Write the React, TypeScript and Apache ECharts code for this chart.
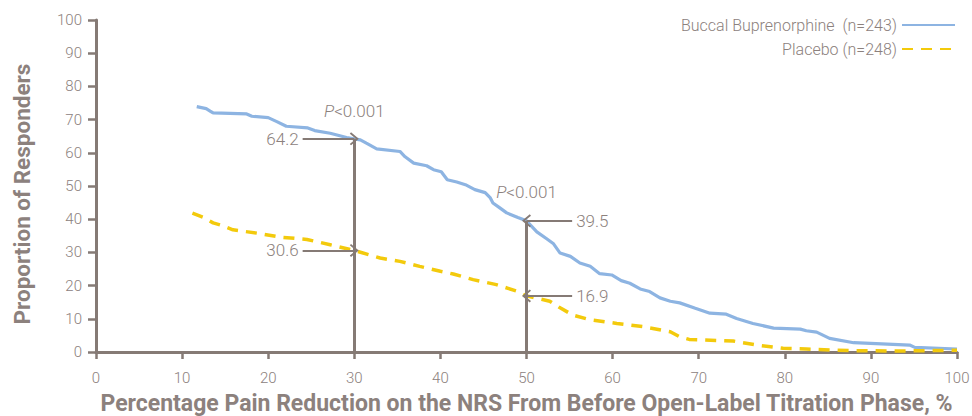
import React, { useEffect, useRef } from "react";
import * as echarts from "echarts";

const xTicks = [0, 10, 20, 30, 40, 50, 60, 70, 80, 90, 100];
const yTicks = [0, 10, 20, 30, 40, 50, 60, 70, 80, 90, 100];

const buprenorphine: [number, number][] = [
  [11.7, 73.9], [12.8, 73.3], [13.3, 72.5], [13.6, 72.0], [17.5, 71.7], [18.1, 71.0],
  [20.0, 70.6], [21.0, 69.4], [22.1, 68.0], [24.6, 67.5], [25.4, 66.7], [27.2, 65.9],
  [29.1, 64.6], [30.0, 64.2], [30.7, 63.9], [31.4, 62.9], [32.6, 61.2], [35.3, 60.4],
  [35.9, 58.8], [36.9, 56.9], [38.4, 56.1], [39.2, 54.9], [40.1, 54.3], [40.8, 51.9],
  [41.9, 51.2], [42.9, 50.4], [44.0, 48.9], [45.2, 48.0], [45.8, 46.4], [46.1, 44.9],
  [46.9, 43.4], [47.7, 41.9], [49.0, 40.5], [50.0, 39.5], [51.2, 36.2], [52.3, 34.2],
  [53.1, 32.7], [53.9, 29.8], [55.1, 28.8], [56.2, 26.8], [57.4, 25.8], [58.5, 23.6],
  [59.9, 23.2], [61.0, 21.5], [62.0, 20.7], [63.2, 19.0], [64.3, 18.2], [65.5, 16.3],
  [66.7, 15.3], [67.8, 14.8], [69.6, 13.2], [71.3, 11.7], [73.2, 11.4], [74.4, 10.1],
  [76.3, 8.6], [78.7, 7.2], [81.8, 6.9], [82.5, 6.4], [83.7, 6.0], [85.2, 4.1],
  [88.0, 2.8], [94.5, 2.1], [95.1, 1.4], [100, 0.9],
];

const placebo: [number, number][] = [
  [11.2, 41.8], [12.5, 40.5], [13.6, 38.9], [14.4, 38.3], [15.9, 36.8], [18.7, 35.8],
  [21.4, 34.6], [24.5, 33.9], [27.2, 32.3], [30.0, 30.6], [33.0, 28.3], [35.3, 27.3],
  [37.6, 25.8], [40.0, 24.3], [41.5, 23.5], [43.8, 21.8], [46.5, 20.3], [48.9, 18.3],
  [50.0, 16.9], [52.7, 15.3], [53.9, 13.3], [55.4, 11.1], [57.4, 9.7], [60.5, 8.6],
  [63.6, 7.6], [66.7, 6.1], [67.8, 4.6], [68.9, 3.8], [74.0, 3.3], [76.7, 2.1],
  [79.8, 1.1], [82.5, 0.9], [87.6, 0.4], [93.4, 0.3], [98.8, 0.5], [100, 0.5],
];

// annotation cut-offs
const cutoffs = [30, 50];
const bupAtCut = [64.2, 39.5];
const plaAtCut = [30.6, 16.9];
const arrowFrom = [24.0, 55.3];
const pLabelY = [72.6, 48.2];
const pLabelText = "<0.001";

const seriesNames = ["Buccal Buprenorphine  (n=243)", "Placebo (n=248)"];

const AXIS = "#857a75";
const TEXT = "#8c817d";
const BLUE = "#8db4e2";
const GOLD = "#f3ca0c";
const LIGHT = "Roboto, 'Open Sans', sans-serif";
const BOLD = "Roboto, 'Open Sans', sans-serif";

const CHEVRON = "path://M6.5,0 L13,7.6 L11.6,8.8 L6.5,2.8 L1.4,8.8 L0,7.6 Z";

export default function App() {
  const ref = useRef<HTMLDivElement>(null);
  useEffect(() => {
    if (!ref.current) return;
    const chart = echarts.init(ref.current, undefined, { renderer: "svg" });

    const verticals = cutoffs.map((c, i) => [
      { coord: [c, 0], symbol: "none" },
      { coord: [c, bupAtCut[i]], symbol: "none" },
    ]);
    const arrows: any[] = [];
    cutoffs.forEach((c, i) => {
      [bupAtCut[i], plaAtCut[i]].forEach((v) => {
        arrows.push([
          {
            coord: [arrowFrom[i], v],
            label: { show: true, position: "start", formatter: v.toFixed(1), distance: 4 },
          },
          { coord: [c, v] },
        ]);
      });
    });

    const option: any = {
      animation: false,
      grid: { left: 96, right: 15, top: 20, bottom: 64, outerBoundsMode: "none", containLabel: false },
      legend: {
        orient: "vertical",
        right: 11,
        top: 12,
        align: "right",
        itemWidth: 53,
        itemHeight: 10,
        itemGap: 8,
        itemStyle: { opacity: 0 },
        textStyle: { fontFamily: LIGHT, fontWeight: 300, fontSize: 16, color: TEXT },
        data: seriesNames,
      },
      xAxis: {
        type: "value",
        min: 0,
        max: 100,
        interval: 10,
        name: "Percentage Pain Reduction on the NRS From Before Open-Label Titration Phase, %",
        nameLocation: "middle",
        nameGap: 40,
        nameTextStyle: { fontFamily: BOLD, fontWeight: "bold", fontSize: 23, color: TEXT },
        axisLine: { lineStyle: { color: AXIS, width: 3 } },
        axisTick: { length: 7, lineStyle: { color: AXIS, width: 2.5 } },
        axisLabel: {
          fontFamily: LIGHT, fontWeight: 300, fontSize: 15, color: TEXT, margin: 18,
          formatter: (v: number) => (xTicks.includes(v) ? String(v) : ""),
        },
        splitLine: { show: false },
      },
      yAxis: {
        type: "value",
        min: 0,
        max: 100,
        interval: 10,
        name: "Proportion of Responders",
        nameLocation: "middle",
        nameGap: 63,
        nameTextStyle: {
          fontFamily: BOLD, fontWeight: "bold", fontSize: 22.5, color: TEXT,
          padding: [0, 16, 0, 0],
        },
        axisLine: { show: true, lineStyle: { color: AXIS, width: 3 } },
        axisTick: { show: true, length: 8, lineStyle: { color: AXIS, width: 2.5 } },
        axisLabel: {
          fontFamily: LIGHT, fontWeight: 300, fontSize: 15, color: TEXT, margin: 14,
          formatter: (v: number) => (yTicks.includes(v) ? String(v) : ""),
        },
        splitLine: { show: false },
      },
      series: [
        {
          name: seriesNames[0],
          type: "line",
          data: buprenorphine,
          symbol: "none",
          lineStyle: { color: BLUE, width: 3.2 },
          itemStyle: { color: BLUE },
          z: 3,
        },
        {
          name: seriesNames[1],
          type: "line",
          data: placebo,
          symbol: "none",
          lineStyle: { color: GOLD, width: 3.5, type: [11, 8] },
          itemStyle: { color: GOLD },
          z: 3,
        },
        {
          name: "annotations",
          type: "line",
          data: [],
          silent: true,
          z: 4,
          markLine: {
            silent: true,
            animation: false,
            symbol: ["none", CHEVRON],
            symbolSize: [13, 9],
            lineStyle: { color: AXIS, width: 2, type: "solid" },
            label: { fontFamily: LIGHT, fontWeight: 300, fontSize: 17, color: TEXT },
            data: [
              ...verticals.map((v) => [
                { ...v[0], lineStyle: { width: 3, color: AXIS, type: "solid" }, label: { show: false } },
                v[1],
              ]),
              ...arrows,
            ],
          },
          markPoint: {
            silent: true,
            symbol: "rect",
            symbolSize: 1,
            itemStyle: { color: "rgba(0,0,0,0)" },
            label: {
              show: true,
              position: "inside",
              formatter: "{i|P}" + pLabelText,
              fontFamily: LIGHT,
              fontWeight: 300,
              fontSize: 17,
              color: TEXT,
              rich: { i: { fontStyle: "italic", fontFamily: LIGHT, fontWeight: 300, fontSize: 17, color: TEXT } },
            },
            data: cutoffs.map((c, i) => ({ coord: [c, pLabelY[i]] })),
          },
        },
      ],
    };
    chart.setOption(option);
    return () => chart.dispose();
  }, []);
  return (
    <div
      ref={ref}
      style={{ position: "absolute", left: 0, top: 0, width: 972, height: 416 }}
    />
  );
}
